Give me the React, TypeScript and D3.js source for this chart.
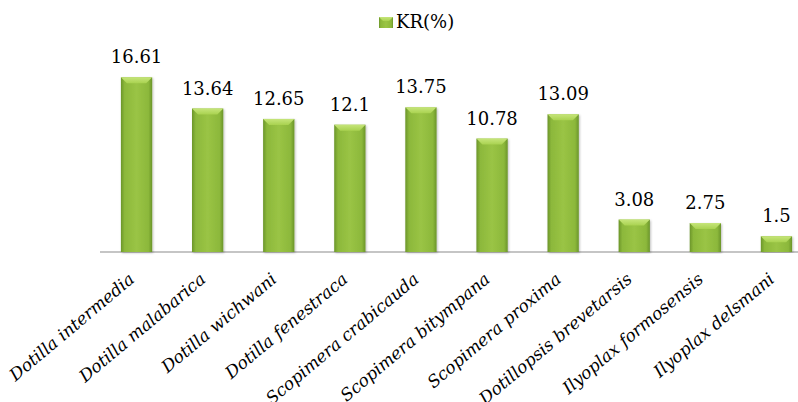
import React from 'react';
import * as d3 from 'd3';

const species = [
  'Dotilla intermedia',
  'Dotilla malabarica',
  'Dotilla wichwani',
  'Dotilla fenestraca',
  'Scopimera crabicauda',
  'Scopimera bitympana',
  'Scopimera proxima',
  'Dotillopsis brevetarsis',
  'Ilyoplax formosensis',
  'Ilyoplax delsmani',
];
const krValues = [16.61, 13.64, 12.65, 12.1, 13.75, 10.78, 13.09, 3.08, 2.75, 1.5];
const valueLabels = ['16.61', '13.64', '12.65', '12.1', '13.75', '10.78', '13.09', '3.08', '2.75', '1.5'];
const seriesName = 'KR(%)';

const W = 798, H = 402;
const axisY = 252;

export default function App() {
  const x = d3.scaleBand<string>()
    .domain(species)
    .range([101, 812])
    .paddingInner(0.56)
    .paddingOuter(0.28);
  const y = d3.scaleLinear().domain([0, 18]).range([axisY, axisY - 18 * 10.52]);
  const bw = x.bandwidth();
  const serif = 'DejaVu Serif';

  return (
    <div style={{ position: 'absolute', left: 0, top: 0 }}>
      <svg width={W} height={H} style={{ display: 'block', background: '#fff' }}>
        <defs>
          <linearGradient id="body" x1="0" x2="1" y1="0" y2="0">
            <stop offset="0%" stopColor="#6b952a" />
            <stop offset="12%" stopColor="#8cb83b" />
            <stop offset="50%" stopColor="#9ac445" />
            <stop offset="88%" stopColor="#8cb83b" />
            <stop offset="100%" stopColor="#6b952a" />
          </linearGradient>
          <linearGradient id="bevel" x1="0" x2="0" y1="0" y2="1">
            <stop offset="0%" stopColor="#c6e57a" />
            <stop offset="100%" stopColor="#a9d250" />
          </linearGradient>
          <filter id="shadow" x="-20%" y="-5%" width="140%" height="110%">
            <feDropShadow dx="1" dy="1" stdDeviation="1" floodColor="#000" floodOpacity="0.25" />
          </filter>
        </defs>

        {/* legend */}
        <g>
          <rect x={379} y={17} width={14} height={11} fill="url(#body)" />
          <polygon points="379,17 393,17 389,21 383,21" fill="url(#bevel)" />
          <text x={396} y={28} style={{ fontFamily: serif }} fontSize={18} fill="#000">{seriesName}</text>
        </g>

        {/* axis */}
        <line x1={100} x2={W} y1={axisY} y2={axisY} stroke="#8c8c8c" strokeWidth={1.2} />

        {/* bars */}
        {species.map((s, i) => {
          const x0 = x(s)!;
          const top = y(krValues[i]);
          const bev = 6;
          return (
            <g key={s}>
              <rect x={x0} y={top} width={bw} height={axisY - top} fill="url(#body)" filter="url(#shadow)" />
              <polygon
                points={`${x0},${top} ${x0 + bw},${top} ${x0 + bw - 6},${top + bev} ${x0 + 6},${top + bev}`}
                fill="url(#bevel)"
              />
              <text
                x={x0 + bw / 2}
                y={top - 14}
                textAnchor="middle"
                style={{ fontFamily: serif }}
                fontSize={18}
                fill="#000"
              >
                {valueLabels[i]}
              </text>
            </g>
          );
        })}

        {/* category labels */}
        {species.map(s => {
          const cx = x(s)! + bw / 2 - 1;
          const cy = axisY + 29;
          return (
            <text
              key={s}
              transform={`translate(${cx},${cy}) rotate(-40)`}
              textAnchor="end"
              style={{ fontFamily: serif, fontStyle: 'italic' }}
              fontSize={17}
              fill="#000"
            >
              {s}
            </text>
          );
        })}
      </svg>
    </div>
  );
}
